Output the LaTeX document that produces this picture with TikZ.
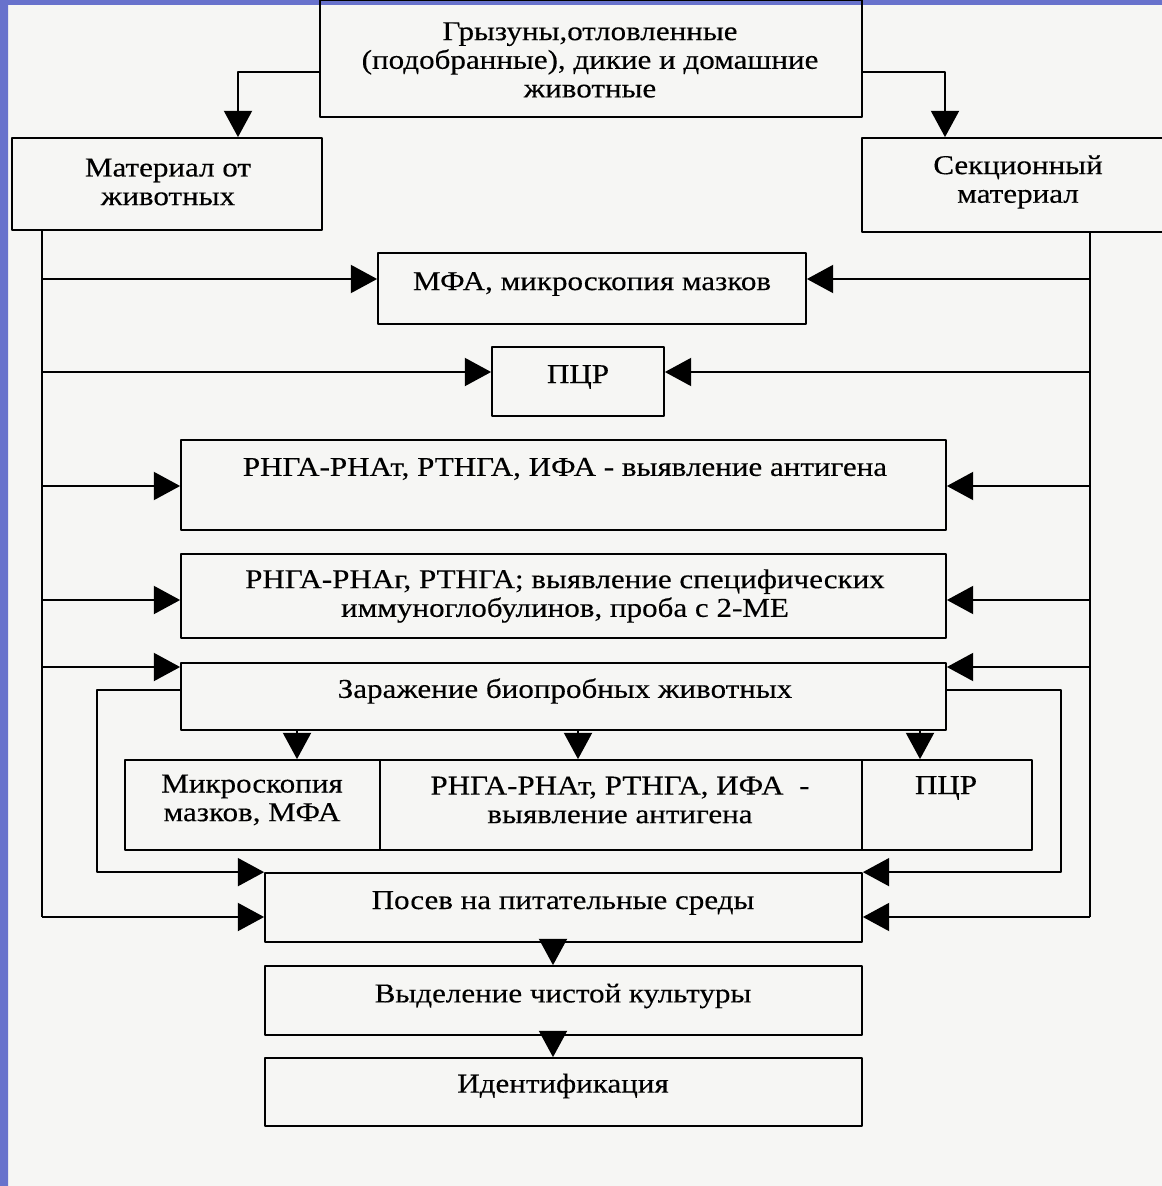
\documentclass[tikz,border=0pt]{standalone}
\usepackage{fontspec}
\setmainfont[FakeStretch=1.14,FakeBold=0.3]{Liberation Serif}
\usetikzlibrary{arrows.meta}
\definecolor{paper}{RGB}{246,246,244}
\definecolor{slide}{RGB}{104,114,204}

\tikzset{
  box/.style 2 args={draw, minimum width=#1*0.02cm, minimum height=#2*0.02cm, inner sep=0pt},
  txt/.style={align=center, inner sep=0pt},
}

\begin{document}
\begin{tikzpicture}[x=0.02cm, y=-0.02cm, >={Triangle[length=15pt,width=16pt]}, line width=1pt,
  font=\fontsize{15.5}{16.3}\selectfont, line join=round]
	% page and slide edge
	\useasboundingbox (0,0) rectangle (1162,1186);
	\fill[paper] (0,0) rectangle (1162,1186);
	\fill[slide] (0,0) rectangle (8,1186) (0,0) rectangle (1162,5);
	% boxes
	\node[box={542}{117}] (src) at (591,58.5) {};
	\node[box={310}{92}] (mat) at (167,184) {};
	\node[box={304}{94}] (sek) at (1014,185) {};
	\node[box={428}{71}] (mfa) at (592,288.5) {};
	\node[box={172}{69}] (pcr) at (578,381.5) {};
	\node[box={765}{90}] (rnat) at (563.5,485) {};
	\node[box={765}{84}] (rnag) at (563.5,596) {};
	\node[box={765}{67}] (zar) at (563.5,696.5) {};
	\node[box={255}{90}] (mic) at (252.5,805) {};
	\node[box={482}{90}] (rna2) at (621,805) {};
	\node[box={170}{90}] (pcr2) at (947,805) {};
	\node[box={597}{69}] (pos) at (563.5,907.5) {};
	\node[box={597}{69}] (vyd) at (563.5,1000.5) {};
	\node[box={597}{68}] (ident) at (563.5,1092) {};
	% texts
	\node[txt] (src-t) at (590,60) {Грызуны,отловленные\\(подобранные), дикие и домашние\\животные};
	\node[txt] (mat-t) at (168,182) {Материал от\\животных};
	\node[txt] (sek-t) at (1018,182) {Секционный\\материал};
	\node[txt] (mfa-t) at (592,284) {МФА, микроскопия мазков};
	\node[txt] (pcr-t) at (578,377) {ПЦР};
	\node[txt] (rnat-t) at (565,469) {РНГА-РНАт, РТНГА, ИФА - выявление антигена};
	\node[txt] (rnag-t) at (565,596) {РНГА-РНАг, РТНГА; выявление специфических\\иммуноглобулинов, проба с 2-МЕ};
	\node[txt] (zar-t) at (565,691) {Заражение биопробных животных};
	\node[txt] (mic-t) at (252,800) {Микроскопия\\мазков, МФА};
	\node[txt] (rna2-t) at (620,800) {РНГА-РНАт, РТНГА, ИФА \ -\\выявление антигена};
	\node[txt] (pcr2-t) at (946,788) {ПЦР};
	\node[txt] (pos-t) at (563,903) {Посев на питательные среды};
	\node[txt] (vyd-t) at (563,996) {Выделение чистой культуры};
	\node[txt] (ident-t) at (563,1086) {Идентификация};
	% top split
	\coordinate (tl) at (238,72); \coordinate (tr) at (945,72);
	\draw[->] (tl -| src.west) -| (tl |- mat.north);
	\draw[->] (tr -| src.east) -| (tr |- sek.north);
	% side buses
	\foreach \y/\n in {279/mfa,372/pcr,486/rnat,600/rnag,667/zar,917/pos}
	{\coordinate (L\n) at (42,\y); \coordinate (R\n) at (1090,\y);
		\draw[->] (L\n) -- (L\n -| \n.west);
		\draw[->] (R\n) -- (R\n -| \n.east);}
	\draw (mat.south -| Lpos) -- (Lpos);
	\draw (sek.south -| Rpos) -- (Rpos);
	% bioassay loops
	\coordinate (il) at (97,690); \coordinate (ir) at (1061,690);
	\draw[->] (il -| zar.west) -- (il) |- (pos.north west);
	\draw[->] (ir -| zar.east) -- (ir) |- (pos.north east);
	\foreach \x/\n in {297/mic,578/rna2,920/pcr2}
	{\coordinate (D\n) at (\x,730);
		\draw[->] (D\n) -- (D\n |- \n.north);}
	% bottom chain
	\coordinate (dn) at (553,0);
	\draw[->] (pos.south -| dn) -- (vyd.north -| dn);
	\draw[->] (vyd.south -| dn) -- (ident.north -| dn);
\end{tikzpicture}
\end{document}
